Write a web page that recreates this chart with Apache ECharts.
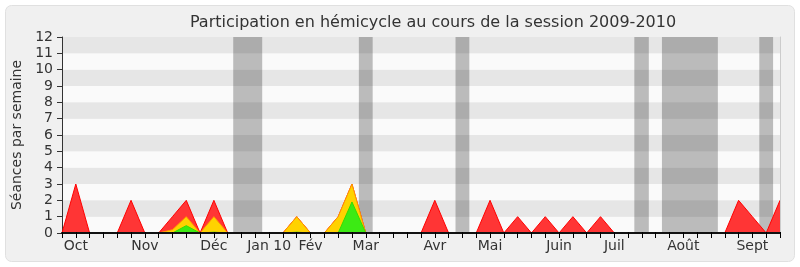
<!DOCTYPE html>
<html>
<head>
<meta charset="utf-8">
<script src="https://cdn.jsdelivr.net/npm/echarts@6/dist/echarts.min.js"></script>
<style>
html,body{margin:0;padding:0;background:#ffffff;}
#chart{width:800px;height:267px;}
</style>
</head>
<body>
<div id="chart"></div>
<script>
// Weeks of the session (categories)
const weeks = ["1","2","3","4","5","6","7","8","9","10","11","12","13","14","15","16","17","18","19","20","21","22","23","24","25","26","27","28","29","30","31","32","33","34","35","36","37","38","39","40","41","42","43","44","45","46","47","48","49","50","51","52","53"];
// Month tick labels (week index -> label)
const monthIdx   = [1, 6, 11, 15, 18, 22, 27, 31, 36, 40, 45, 50];
const monthNames = ["Oct", "Nov", "Déc", "Jan 10", "Fév", "Mar", "Avr", "Mai", "Juin", "Juil", "Août", "Sept"];
// Séances par semaine
const presence = [0,3,0,0,0,2,0,0,1,2,0,2,0,0,0,0,0,1,0,0,1,3,0,0,0,0,0,2,0,0,0,2,0,1,0,1,0,1,0,1,0,0,0,0,0,0,0,0,0,2,1,0,2];
const participation = [0,0,0,0,0,0,0,0,0.2,1,0,1,0,0,0,0,0,1,0,0,1,3,0,0,0,0,0,0,0,0,0,0,0,0,0,0,0,0,0,0,0,0,0,0,0,0,0,0,0,0,0,0,0];
const interventions = [0,0,0,0,0,0,0,0,0,0.45,0,0.05,0,0,0,0,0,0.05,0,0,0,1.9,0,0,0,0,0,0,0,0,0,0,0,0,0,0,0,0,0,0,0,0,0,0,0,0,0,0,0,0,0,0,0];
// Vacances (week index ranges)
const vacStart = [12.4, 21.5, 28.5, 41.45, 43.45, 50.5];
const vacEnd   = [14.5, 22.5, 29.5, 42.5, 47.5, 51.5];
const yTicks = [0,1,2,3,4,5,6,7,8,9,10,11,12];

const FONT = 'DejaVu Sans';
const labelMap = {};
monthIdx.forEach((i, k) => { labelMap[i] = monthNames[k]; });

const chart = echarts.init(document.getElementById('chart'), null, {renderer: 'canvas'});
const option = {
  animation: false,
  backgroundColor: 'transparent',
  textStyle: {fontFamily: FONT},
  graphic: [{
    type: 'rect', z: -100, silent: true,
    shape: {x: 5.5, y: 5.5, width: 789, height: 256, r: 6},
    style: {fill: '#f0f0f0', stroke: '#e0e0e0', lineWidth: 1}
  }],
  title: {
    text: 'Participation en hémicycle au cours de la session 2009-2010',
    left: 428, top: 10, textAlign: 'center',
    textStyle: {fontFamily: FONT, fontSize: 16, fontWeight: 'normal', color: '#333333'}
  },
  grid: {left: 62, right: 20, top: 37, bottom: 34, containLabel: false},
  xAxis: [{
    type: 'category', data: weeks, boundaryGap: false, position: 'bottom', z: 10,
    axisLine: {show: true, lineStyle: {color: '#111111', width: 2}},
    axisTick: {show: true, interval: 0, length: 5, lineStyle: {color: '#000000'}},
    axisLabel: {
      interval: 0, margin: 6, fontFamily: FONT, fontSize: 14, color: '#333333',
      formatter: (v, i) => labelMap[i] || ''
    },
    splitLine: {show: false}
  }, {
    type: 'category', data: weeks, boundaryGap: false, position: 'top', z: 10,
    axisLine: {show: false},
    axisTick: {show: true, interval: 0, length: 1, lineStyle: {color: '#000000'}},
    axisLabel: {show: false}, splitLine: {show: false}
  }, {
    type: 'value', min: 0, max: weeks.length - 1, show: false
  }],
  yAxis: [{
    type: 'value', min: yTicks[0], max: yTicks[yTicks.length - 1], interval: 1,
    name: 'Séances par semaine', nameLocation: 'middle', nameGap: 36,
    nameTextStyle: {fontFamily: FONT, fontSize: 14, color: '#333333'},
    axisLine: {show: true, lineStyle: {color: '#333333', width: 1}},
    axisTick: {show: true, length: 5, lineStyle: {color: '#333333'}},
    axisLabel: {margin: 9, fontFamily: FONT, fontSize: 14, color: '#333333'},
    splitLine: {show: false},
    splitArea: {show: true, areaStyle: {color: ['#fafafa', '#e6e6e6']}}
  }, {
    type: 'value', min: 0, max: 12, position: 'right', z: 10,
    axisLine: {show: true, lineStyle: {color: '#cccccc', width: 1}},
    axisTick: {show: false}, axisLabel: {show: false}, splitLine: {show: false}
  }],
  series: [{
    name: 'Vacances', type: 'line', xAxisIndex: 2, yAxisIndex: 0, data: [], z: 1,
    silent: true,
    markArea: {
      silent: true,
      itemStyle: {color: 'rgba(0,0,0,0.25)'},
      data: vacStart.map((s, k) => [{xAxis: s, yAxis: 0}, {xAxis: vacEnd[k], yAxis: 12}])
    }
  }, {
    name: 'Présence', type: 'line', data: presence, symbol: 'none', z: 3,
    lineStyle: {color: '#ff0000', width: 1},
    areaStyle: {color: '#ff3535', opacity: 1}
  }, {
    name: 'Participation', type: 'line', data: participation, symbol: 'none', z: 4,
    lineStyle: {color: '#ff9a00', width: 1},
    areaStyle: {color: '#ffd200', opacity: 1}
  }, {
    name: 'Interventions', type: 'line', data: interventions, symbol: 'none', z: 5,
    lineStyle: {color: '#33dd00', width: 1},
    areaStyle: {color: '#3cea14', opacity: 1}
  }]
};
chart.setOption(option);
</script>
</body>
</html>
